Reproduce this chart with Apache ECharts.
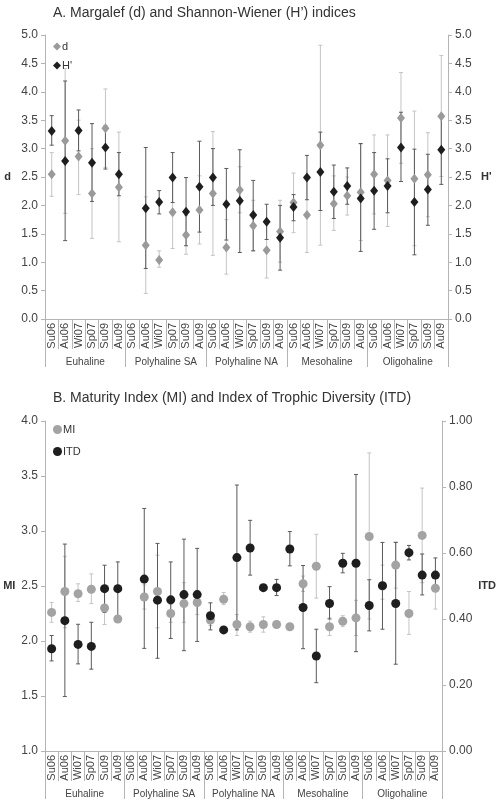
<!DOCTYPE html>
<html>
<head>
<meta charset="utf-8">
<script src="https://cdn.jsdelivr.net/npm/echarts@6/dist/echarts.min.js"></script>
<style>
  html, body { margin: 0; padding: 0; background: #fff; }
  #chart { width: 499px; height: 802px; }
</style>
</head>
<body>
<div id="chart"></div>
<script>
// categories
const seasons = ['Su06', 'Au06', 'Wi07', 'Sp07', 'Su09', 'Au09'];
const groups = ['Euhaline', 'Polyhaline SA', 'Polyhaline NA', 'Mesohaline', 'Oligohaline'];

// A. Margalef d (mean, low, high)
const dMean = [2.55, 3.14, 2.86, 2.21, 3.36, 2.32, null, 1.30, 1.04, 1.88, 1.48, 1.92, 2.21, 1.26, 2.27, 1.64, 1.21, 1.54, 2.05, 1.83, 3.06, 2.03, 2.17, 2.23, 2.55, 2.44, 3.54, 2.47, 2.54, 3.57];
const dLow  = [2.16, 1.86, 2.19, 1.42, 2.67, 1.36, null, 0.45, 0.91, 1.24, 1.14, 1.32, 1.12, 0.79, 1.87, 1.20, 0.72, 1.00, 1.52, 1.17, 1.30, 1.56, 1.83, 1.38, 1.85, 1.63, 2.74, 1.29, 1.80, 2.51];
const dHigh = [2.93, 4.41, 3.50, 3.00, 4.05, 3.29, null, 2.15, 1.20, 2.51, 1.82, 2.52, 3.30, 1.75, 2.68, 2.09, 1.72, 2.09, 2.57, 2.48, 4.82, 2.52, 2.50, 3.08, 3.24, 3.24, 4.34, 3.66, 3.28, 4.64];

// A. Shannon-Wiener H'
const hMean = [3.31, 2.78, 3.32, 2.75, 3.02, 2.55, null, 1.95, 2.06, 2.49, 1.89, 2.33, 2.49, 2.02, 2.08, 1.83, 1.71, 1.43, 1.97, 2.49, 2.59, 2.24, 2.34, 2.12, 2.26, 2.34, 3.02, 2.06, 2.28, 2.98];
const hLow  = [3.06, 1.38, 2.96, 2.07, 2.64, 2.17, null, 0.89, 1.85, 2.05, 1.29, 1.53, 2.00, 1.39, 1.17, 1.20, 1.40, 0.86, 1.73, 2.10, 1.91, 1.77, 2.02, 1.19, 1.58, 1.87, 2.42, 1.13, 1.65, 2.37];
const hHigh = [3.58, 4.19, 3.68, 3.44, 3.40, 2.93, null, 3.02, 2.26, 2.93, 2.49, 3.13, 3.00, 2.65, 2.98, 2.44, 2.02, 2.00, 2.19, 2.88, 3.29, 2.71, 2.66, 3.09, 2.93, 2.82, 3.64, 2.99, 2.90, 3.60];

// B. Maturity Index MI
const miMean = [2.26, 2.45, 2.43, 2.47, 2.30, 2.20, null, 2.40, 2.45, 2.25, 2.34, 2.35, 2.19, 2.38, 2.15, 2.13, 2.15, 2.15, 2.13, 2.52, 2.68, 2.13, 2.18, 2.21, 2.95, 2.50, 2.69, 2.25, 2.96, 2.48];
const miLow  = [2.17, 2.12, 2.36, 2.34, 2.15, 2.18, null, 2.29, 2.12, 2.17, 2.17, 2.24, 2.14, 2.33, 2.05, 2.08, 2.08, 2.12, 2.11, 2.45, 2.39, 2.05, 2.13, 2.05, 2.20, 2.38, 2.48, 2.06, 2.53, 2.29];
const miHigh = [2.35, 2.77, 2.52, 2.61, 2.45, 2.22, null, 2.51, 2.78, 2.33, 2.53, 2.46, 2.23, 2.44, 2.24, 2.18, 2.22, 2.18, 2.15, 2.59, 2.97, 2.21, 2.23, 2.37, 3.71, 2.69, 2.90, 2.45, 3.39, 2.59];

// B. Index of Trophic Diversity ITD
const itdMean = [0.310, 0.395, 0.323, 0.317, 0.492, 0.492, null, 0.521, 0.457, 0.458, 0.474, 0.474, 0.410, 0.367, 0.586, 0.615, 0.495, 0.495, 0.612, 0.435, 0.288, 0.447, 0.569, 0.569, 0.441, 0.501, 0.447, 0.601, 0.533, 0.533];
const itdLow  = [0.273, 0.165, 0.264, 0.248, 0.420, 0.410, null, 0.311, 0.281, 0.341, 0.304, 0.332, 0.367, 0.367, 0.367, 0.533, 0.495, 0.471, 0.561, 0.310, 0.207, 0.400, 0.540, 0.301, 0.364, 0.369, 0.263, 0.579, 0.473, 0.485];
const itdHigh = [0.350, 0.627, 0.384, 0.390, 0.563, 0.573, null, 0.735, 0.629, 0.573, 0.642, 0.614, 0.449, 0.367, 0.806, 0.699, 0.495, 0.520, 0.665, 0.562, 0.369, 0.498, 0.599, 0.838, 0.519, 0.632, 0.632, 0.623, 0.597, 0.585];

// y axis ticks
const yTicksA = { min: 0, max: 5, interval: 0.5 };
const yTicksBLeft = { min: 1, max: 4, interval: 0.5 };
const yTicksBRight = { min: 0, max: 1, interval: 0.2 };

const categories = [];
groups.forEach(g => seasons.forEach(s => categories.push(s)));

const FONT = 'Liberation Sans, Arial, sans-serif';
const AXIS_COLOR = '#b4b4b4';

function points(vals) {
  const out = [];
  vals.forEach((v, i) => { if (v != null) out.push([i, v]); });
  return out;
}
function ranges(lo, hi) {
  const out = [];
  lo.forEach((v, i) => { if (v != null) out.push([i, v, hi[i]]); });
  return out;
}
function errorBars(color) {
  return function (params, api) {
    const x = api.value(0);
    const a = api.coord([x, api.value(1)]);
    const b = api.coord([x, api.value(2)]);
    const w = 2;
    const st = { stroke: color, lineWidth: 1 };
    return {
      type: 'group',
      children: [
        { type: 'line', shape: { x1: a[0], y1: a[1], x2: b[0], y2: b[1] }, style: st },
        { type: 'line', shape: { x1: a[0] - w, y1: a[1], x2: a[0] + w, y2: a[1] }, style: st },
        { type: 'line', shape: { x1: b[0] - w, y1: b[1], x2: b[0] + w, y2: b[1] }, style: st }
      ]
    };
  };
}

function seasonAxis(grid) {
  return {
    type: 'category', gridIndex: grid, data: categories, position: 'bottom',
    axisLine: { show: true, lineStyle: { color: AXIS_COLOR } },
    axisTick: { show: true, interval: 0, length: 30, lineStyle: { color: AXIS_COLOR, width: 1 } },
    axisLabel: { interval: 0, rotate: 90, margin: 4, fontSize: 11, color: '#444', fontFamily: FONT }
  };
}
function groupAxis(grid) {
  return {
    type: 'category', gridIndex: grid, data: groups, position: 'bottom',
    axisLine: { show: false },
    axisTick: { show: true, interval: 0, length: 48, lineStyle: { color: AXIS_COLOR, width: 1 } },
    axisLabel: { interval: 0, margin: 38, fontSize: 10, color: '#444', fontFamily: FONT }
  };
}
function valueAxis(grid, pos, ticks, name, gap, digits) {
  return Object.assign({
    type: 'value', gridIndex: grid, position: pos,
    name: name, nameLocation: 'middle', nameRotate: 0, nameGap: gap,
    nameTextStyle: { fontSize: 11, fontWeight: 'bold', color: '#333', fontFamily: FONT },
    axisLine: { show: true, lineStyle: { color: AXIS_COLOR } },
    axisTick: { show: true, length: 4, lineStyle: { color: AXIS_COLOR } },
    axisLabel: { margin: 7, fontSize: 12, color: '#444', fontFamily: FONT,
      formatter: v => v.toFixed(digits) },
    splitLine: { show: false }
  }, ticks);
}

const chart = echarts.init(document.getElementById('chart'), null, { renderer: 'canvas' });

chart.setOption({
  animation: false,
  backgroundColor: '#fff',
  textStyle: { fontFamily: FONT },
  title: [
    { text: "A. Margalef (d) and Shannon-Wiener (H\u2019) indices", left: 48, top: 1,
      textStyle: { fontSize: 14, fontWeight: 'normal', color: '#333', fontFamily: FONT } },
    { text: 'B. Maturity Index (MI) and Index of Trophic Diversity (ITD)', left: 48, top: 386,
      textStyle: { fontSize: 14, fontWeight: 'normal', color: '#333', fontFamily: FONT } }
  ],
  legend: [
    { data: ['d', "H'"], orient: 'vertical', left: 48, top: 36, itemGap: 8,
      itemWidth: 8, itemHeight: 8, textStyle: { fontSize: 11, color: '#333', padding: [0, 0, 0, -4] } },
    { data: ['MI', 'ITD'], orient: 'vertical', left: 48, top: 419, itemGap: 11,
      itemWidth: 9, itemHeight: 9, textStyle: { fontSize: 11, color: '#333', padding: [0, 0, 0, -4] } }
  ],
  grid: [
    { left: 45, right: 51, top: 35, height: 284 },
    { left: 45, right: 50, top: 421, height: 330 }
  ],
  xAxis: [seasonAxis(0), groupAxis(0), seasonAxis(1), groupAxis(1)],
  yAxis: [
    valueAxis(0, 'left', yTicksA, 'd', 34, 1),
    valueAxis(0, 'right', yTicksA, "H'", 33, 1),
    valueAxis(1, 'left', yTicksBLeft, 'MI', 22, 1),
    valueAxis(1, 'right', yTicksBRight, 'ITD', 29, 2)
  ],
  series: [
    { type: 'custom', xAxisIndex: 0, yAxisIndex: 0, data: ranges(dLow, dHigh),
      renderItem: errorBars('#c4c4c4'), encode: { x: 0, y: [1, 2] }, z: 1 },
    { type: 'custom', xAxisIndex: 0, yAxisIndex: 1, data: ranges(hLow, hHigh),
      renderItem: errorBars('#5a5a5a'), encode: { x: 0, y: [1, 2] }, z: 2 },
    { name: 'd', type: 'scatter', xAxisIndex: 0, yAxisIndex: 0, data: points(dMean),
      symbol: 'diamond', symbolSize: [8, 10], itemStyle: { color: '#9a9a9a', opacity: 1 }, z: 3 },
    { name: "H'", type: 'scatter', xAxisIndex: 0, yAxisIndex: 1, data: points(hMean),
      symbol: 'diamond', symbolSize: [8, 10], itemStyle: { color: '#1e1e1e', opacity: 1 }, z: 4 },

    { type: 'custom', xAxisIndex: 2, yAxisIndex: 2, data: ranges(miLow, miHigh),
      renderItem: errorBars('#c4c4c4'), encode: { x: 0, y: [1, 2] }, z: 1 },
    { type: 'custom', xAxisIndex: 2, yAxisIndex: 3, data: ranges(itdLow, itdHigh),
      renderItem: errorBars('#5a5a5a'), encode: { x: 0, y: [1, 2] }, z: 2 },
    { name: 'MI', type: 'scatter', xAxisIndex: 2, yAxisIndex: 2, data: points(miMean),
      symbol: 'circle', symbolSize: 9, itemStyle: { color: '#a3a3a3', opacity: 1 }, z: 3 },
    { name: 'ITD', type: 'scatter', xAxisIndex: 2, yAxisIndex: 3, data: points(itdMean),
      symbol: 'circle', symbolSize: 9, itemStyle: { color: '#1e1e1e', opacity: 1 }, z: 4 }
  ]
});
</script>
</body>
</html>
